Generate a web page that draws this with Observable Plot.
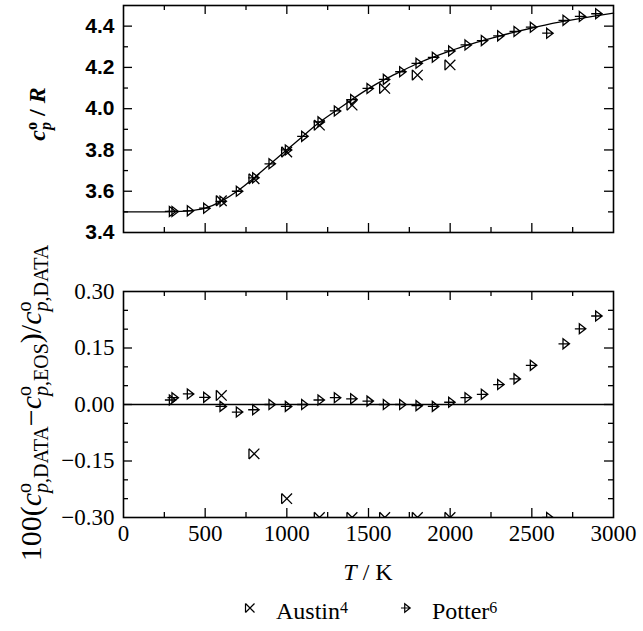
<!DOCTYPE html>
<html><head><meta charset="utf-8">
<script src="https://cdn.jsdelivr.net/npm/d3@7"></script>
<script src="https://cdn.jsdelivr.net/npm/@observablehq/plot@0.6"></script>
<style>
body{margin:0;background:#fff;}
#wrap{position:relative;width:643px;height:631px;overflow:hidden;font-family:"Liberation Serif","Times New Roman",serif;color:#000;background:#fff;}
.abs{position:absolute;}
.rot{transform:translate(-50%,-50%) rotate(-90deg);white-space:nowrap;}
.ctr{transform:translate(-50%,-50%);white-space:nowrap;}
.sp{display:inline-flex;flex-direction:column;text-align:left;}
.sp span{display:block;}
</style></head>
<body>
<div id="wrap"></div>
<script>
// ---- data ----
const curveT  = [0,100,200,300,400,500,600,700,800,900,1000,1100,1200,1300,1400,1500,1600,1700,1800,1900,2000,2100,2200,2300,2400,2500,2600,2700,2800,2900,3000];
const curveCp = [3.500,3.500,3.500,3.501,3.505,3.518,3.552,3.602,3.665,3.733,3.801,3.868,3.934,3.990,4.045,4.097,4.142,4.181,4.219,4.251,4.280,4.307,4.330,4.352,4.372,4.391,4.409,4.424,4.438,4.451,4.463];

const potterT   = [290,306,400,500,600,700,800,900,1000,1100,1200,1300,1400,1500,1600,1700,1800,1900,2000,2100,2200,2300,2400,2500,2600,2700,2800,2900];
const potterCp  = [3.502,3.502,3.505,3.518,3.551,3.600,3.665,3.733,3.800,3.866,3.936,3.989,4.044,4.098,4.142,4.179,4.220,4.249,4.280,4.309,4.330,4.353,4.374,4.395,4.366,4.428,4.447,4.460];
const potterDev = [0.012,0.018,0.028,0.019,-0.005,-0.020,-0.014,0.000,-0.005,0.000,0.012,0.018,0.015,0.009,0.000,0.000,-0.003,-0.005,0.006,0.018,0.027,0.053,0.068,0.104,-0.30,0.161,0.201,0.235];

const austinT   = [600,800,1000,1200,1400,1600,1800,2000];
const austinCp  = [3.554,3.660,3.790,3.920,4.017,4.098,4.163,4.212];
const austinDev = [0.024,-0.131,-0.250,-0.30,-0.30,-0.30,-0.30,-0.30];

const xTickLabels = [0,500,1000,1500,2000,2500,3000];
const xMinorTicks = [250,750,1250,1750,2250,2750];
const topYLabels  = [3.4,3.6,3.8,4.0,4.2,4.4];
const topYMinor   = [3.5,3.7,3.9,4.1,4.3];
const botYLabels  = [-0.30,-0.15,0.00,0.15,0.30];
const botYMinor   = [-0.25,-0.20,-0.10,-0.05,0.05,0.10,0.20,0.25];

// ---- tables ----
const curve  = curveT.map((t,i)=>({T:t, cp:curveCp[i]}));
const potter = potterT.map((t,i)=>({T:t, cp:potterCp[i], dev:potterDev[i]}));
const austin = austinT.map((t,i)=>({T:t, cp:austinCp[i], dev:austinDev[i]}));

// ---- custom symbols ----
const potterSym = {draw(ctx, size){ const s=Math.sqrt(size/Math.PI);
  ctx.moveTo(-1.2*s,0); ctx.lineTo(s,0);
  ctx.moveTo(-0.3*s,-s); ctx.lineTo(s,0); ctx.lineTo(-0.3*s,s); ctx.closePath(); }};
const austinSym = {draw(ctx, size){ const s=Math.sqrt(size/Math.PI);
  ctx.moveTo(-s,-s); ctx.lineTo(s,s);
  ctx.moveTo(-s,s); ctx.lineTo(s,-s);
  ctx.moveTo(-s,-s); ctx.lineTo(-s,s); }};

const W=643, mL=123, mR=30, innerW=W-mL-mR;
const LMAJ=9, LMIN=5;
const SERIF = "Liberation Serif, Times New Roman, serif";

function frameTicks(innerH, xMaj, xMin, yMaj, yMin){
  const o={stroke:"black", strokeWidth:1.3};
  const m=[];
  for (const [arr,L] of [[xMaj,LMAJ],[xMin,LMIN]]){
    m.push(Plot.tickX(arr,{x:d=>d, insetTop:innerH-L, ...o}));
    m.push(Plot.tickX(arr,{x:d=>d, insetBottom:innerH-L, ...o}));
  }
  for (const [arr,L] of [[yMaj,LMAJ],[yMin,LMIN]]){
    m.push(Plot.tickY(arr,{y:d=>d, insetRight:innerW-L, ...o}));
    m.push(Plot.tickY(arr,{y:d=>d, insetLeft:innerW-L, ...o}));
  }
  return m;
}
const xInner = xTickLabels.filter(d=>d>0 && d<3000);

// ---- top panel ----
const topH=260, topMT=5, topMB=28;
const topChart = Plot.plot({
  width:W, height:topH, marginLeft:mL, marginRight:mR, marginTop:topMT, marginBottom:topMB,
  style:{background:"transparent", overflow:"visible"},
  x:{domain:[0,3000], axis:null},
  y:{domain:[3.4,4.5]},
  marks:[
    ...frameTicks(topH-topMT-topMB, xInner, xMinorTicks, topYLabels.filter(d=>d>3.4), topYMinor),
    Plot.axisY({ticks:topYLabels, tickSize:0, tickPadding:9, tickFormat:d3.format(".1f"), label:null,
      fontFamily:"Liberation Sans, Arial, sans-serif", fontSize:21, fontWeight:"bold"}),
    Plot.line(curve,{x:"T", y:"cp", curve:"natural", stroke:"black", strokeWidth:1.3}),
    Plot.dot(austin,{x:"T", y:"cp", symbol:austinSym, r:5.2, stroke:"black", fill:"none", strokeWidth:1.3}),
    Plot.dot(potter,{x:"T", y:"cp", symbol:potterSym, r:5, stroke:"black", fill:"none", strokeWidth:1.3}),
    Plot.frame({stroke:"black", strokeWidth:1.6})
  ]
});

// ---- bottom panel ----
const botH=300, botMT=31, botMB=43;
const minus = d => (d<0?"\u2212":"") + Math.abs(d).toFixed(2);
const botChart = Plot.plot({
  width:W, height:botH, marginLeft:mL, marginRight:mR, marginTop:botMT, marginBottom:botMB,
  style:{background:"transparent", overflow:"visible"},
  x:{domain:[0,3000]},
  y:{domain:[-0.30,0.30]},
  marks:[
    ...frameTicks(botH-botMT-botMB, xInner, xMinorTicks, botYLabels.filter(d=>Math.abs(d)<0.3), botYMinor),
    Plot.axisX({ticks:xTickLabels, tickSize:0, tickPadding:7, tickFormat:d3.format("d"), label:null,
      fontFamily:SERIF, fontSize:23}),
    Plot.axisY({ticks:botYLabels, tickSize:0, tickPadding:9, tickFormat:minus, label:null,
      fontFamily:SERIF, fontSize:23}),
    Plot.ruleY([0],{stroke:"black", strokeWidth:1.3}),
    Plot.dot(austin,{x:"T", y:"dev", symbol:austinSym, r:5.2, stroke:"black", fill:"none", strokeWidth:1.3, clip:true}),
    Plot.dot(potter,{x:"T", y:"dev", symbol:potterSym, r:5, stroke:"black", fill:"none", strokeWidth:1.3, clip:true}),
    Plot.frame({stroke:"black", strokeWidth:1.6})
  ]
});

const wrap = document.getElementById("wrap");
topChart.style.position="absolute"; topChart.style.left="0px"; topChart.style.top="0px";
botChart.style.position="absolute"; botChart.style.left="0px"; botChart.style.top=topH+"px";
wrap.appendChild(topChart); wrap.appendChild(botChart);

// ---- text labels ----
function add(html, cls, css){ const d=document.createElement("div"); d.className="abs "+cls; d.innerHTML=html; Object.assign(d.style, css); wrap.appendChild(d); return d; }

add('<i><b>c</b></i><span class="sp" style="font-weight:bold;font-size:16px;line-height:14px;vertical-align:8px"><span>o</span><span><i>p</i></span></span><b> / <i>R</i></b>',
    "rot", {left:"38px", top:"114px", fontSize:"24px", lineHeight:"28px"});

const SP = 'style="font-size:20px;line-height:17px;vertical-align:10px"';
const cDATA = `<i>c</i><span class="sp" ${SP}><span>o</span><span><i>p</i>,DATA</span></span>`;
const cEOS  = `<i>c</i><span class="sp" ${SP}><span>o</span><span><i>p</i>,EOS</span></span>`;
add(`100(${cDATA}\u2212${cEOS})/${cDATA}`, "rot", {left:"32px", top:"403px", fontSize:"30px", lineHeight:"34px"});

add('<i>T</i> / K', "ctr", {left:"368px", top:"572px", fontSize:"24px"});

// legend
function legendSym(sym, cx, cy, r){
  const svg = d3.create("svg").attr("width",30).attr("height",30)
    .style("position","absolute").style("left",(cx-15)+"px").style("top",(cy-15)+"px");
  svg.append("path").attr("transform","translate(15,15)")
    .attr("d", d3.symbol(sym, Math.PI*r*r)()).attr("fill","none").attr("stroke","black").attr("stroke-width",1.2);
  wrap.appendChild(svg.node());
}
legendSym(austinSym, 250, 608, 4.5);
legendSym(potterSym, 406, 608, 4.2);
add('Austin<sup style="font-size:16px;vertical-align:6px">4</sup>', "", {left:"276px", top:"594px", fontSize:"24px", lineHeight:"28px"});
add('Potter<sup style="font-size:16px;vertical-align:6px">6</sup>', "", {left:"432px", top:"594px", fontSize:"24px", lineHeight:"28px"});
</script>
</body></html>
